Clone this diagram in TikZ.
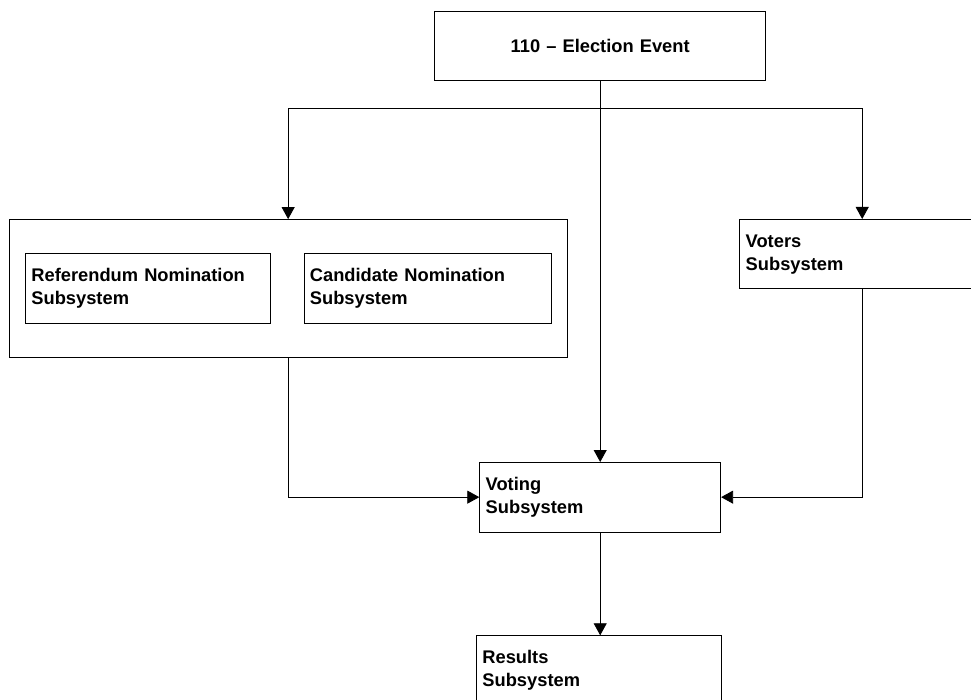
\documentclass[tikz,border=0pt]{standalone}
\usepackage{fontspec}
\setmainfont{Liberation Sans}
\usetikzlibrary{arrows.meta,fit}

\begin{document}
\begin{tikzpicture}[x=1pt, y=-1pt,
  font=\fontsize{18.3}{23}\selectfont\bfseries,
  box/.style={draw, line width=0.8pt, rectangle, inner xsep=6pt, inner ysep=0pt,
    text width=233pt, minimum height=69.5pt, align=left, anchor=north west},
  flow/.style={-{Triangle[length=12pt,width=13pt]}, line width=0.8pt}]

  % page frame
  \useasboundingbox (0,0) rectangle (971,700);

  % top event
  \node[box, align=center, text width=319pt] (event) at (434.3,11) {110 -- Election Event};

  % nomination subsystems and their frame
  \node[box] (refnom) at (25,253.5) {Referendum Nomination\\Subsystem};
  \node[box, text width=235pt] (candnom) at (303.5,253.5) {Candidate Nomination\\Subsystem};
  \node[draw, line width=0.8pt, inner xsep=16pt, inner ysep=34pt,
    fit=(refnom)(candnom)] (nomgroup) {};

  % other subsystems
  \node[box] (voters) at (739.3,219) {Voters\\Subsystem};
  \node[box, text width=229pt] (voting) at (479.3,462) {Voting\\Subsystem};
  \node[box] (results) at (476,635.3) {Results\\Subsystem};

  % connectors
  \draw[flow] (event.south) -- ++(0,26.7) -| (nomgroup.north);
  \draw[flow] (event.south) -- ++(0,26.7) -| (voters.north);
  \draw[flow] (event.south) -- (event.south |- voting.north);
  \draw[flow] (nomgroup.south) |- (voting.west);
  \draw[flow] (voters.south) |- (voting.east);
  \draw[flow] (voting.south) -- (voting.south |- results.north);

\end{tikzpicture}
\end{document}
